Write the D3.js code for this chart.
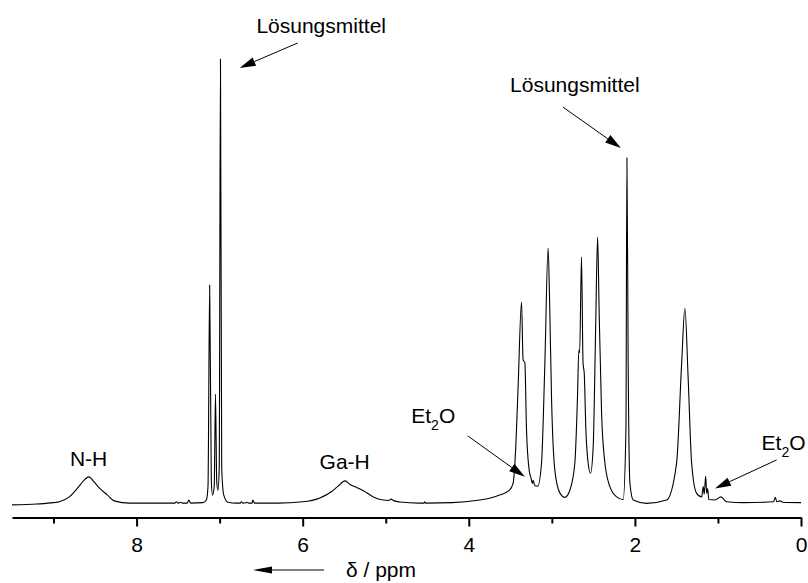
<!DOCTYPE html>
<html>
<head>
<meta charset="utf-8">
<script src="https://cdn.jsdelivr.net/npm/d3@7/dist/d3.min.js"></script>
<style>
  body { margin: 0; background: #fff; }
  svg { display: block; }
</style>
</head>
<body>
<div class="canvas"></div>
<script>
// 1H spectrum: [shift in ppm, intensity (tallest line = 100)]
const spectrum = [
  [9.5, -0.2], [9.2, 0.0], [9.0, 0.3], [8.93, 0.5], [8.81, 1.6], [8.71, 3.6], [8.64, 5.2],
  [8.575, 6.1], [8.51, 4.9], [8.45, 3.6], [8.35, 2.0], [8.27, 0.7], [8.08, 0.2], [7.8, 0.2],
  [7.54, 0.2], [7.52, 0.5], [7.5, 0.2], [7.47, 0.4], [7.45, 0.2], [7.39, 0.2], [7.37, 0.9],
  [7.35, 0.2], [7.2, 0.3], [7.16, 0.9], [7.14, 4], [7.12, 49.2], [7.1, 5], [7.085, 2.0],
  [7.065, 4], [7.05, 24.7], [7.035, 5], [7.02, 3.1], [7.005, 8], [6.99, 100], [6.975, 8],
  [6.95, 2], [6.9, 0.4], [6.8, 0.2], [6.75, 0.2], [6.74, 0.5], [6.72, 0.2], [6.68, 0.3],
  [6.67, 0.4], [6.65, 0.2], [6.61, 0.2], [6.6, 0.9], [6.58, 0.2], [6.3, 0.2], [6.0, 0.5],
  [5.8, 1.3], [5.65, 2.8], [5.58, 3.9], [5.49, 5.2], [5.43, 4.4], [5.35, 3.7], [5.27, 3.0],
  [5.15, 1.6], [5.03, 0.9], [4.96, 0.8], [4.94, 1.1], [4.9, 0.7], [4.83, 0.45], [4.6, 0.2],
  [4.54, 0.2], [4.53, 0.5], [4.52, 0.2], [4.2, 0.3], [3.87, 0.9], [3.75, 1.3], [3.63, 2.0],
  [3.51, 3.1], [3.466, 4.7], [3.434, 12.9], [3.406, 26.4], [3.365, 45.4], [3.346, 32.4],
  [3.325, 31.7], [3.305, 16.6], [3.273, 7.6], [3.25, 5.8], [3.235, 4.6], [3.225, 5.3],
  [3.205, 4.1], [3.17, 4.0], [3.124, 9.2], [3.084, 31.7], [3.045, 57.5], [3.024, 42.9],
  [3.004, 24.1], [2.964, 7.6], [2.904, 2.5], [2.843, 1.5], [2.783, 3.1], [2.723, 9.2],
  [2.691, 24.1], [2.675, 34.6], [2.665, 34.0], [2.643, 55.5], [2.624, 31.6], [2.61, 29.4],
  [2.59, 16.6], [2.563, 9.2], [2.534, 6.9], [2.502, 12.9], [2.473, 39.1], [2.449, 60.0],
  [2.43, 42.9], [2.401, 20.4], [2.361, 9.2], [2.301, 3.9], [2.22, 1.6], [2.141, 1.0],
  [2.108, 16.6], [2.096, 77.8], [2.081, 31.7], [2.06, 4.7], [2.02, 0.9], [1.859, 0.15],
  [1.618, 0.9], [1.498, 9.2], [1.437, 31.7], [1.398, 44.0], [1.358, 27.9], [1.317, 9.2],
  [1.257, 2.4], [1.196, 1.6], [1.177, 3.9], [1.165, 2.2], [1.148, 6.2], [1.135, 2.4],
  [1.124, 3.5], [1.11, 1.0], [1.036, 0.9], [0.964, 1.6], [0.895, 0.5], [0.69, 0.3],
  [0.33, 0.5], [0.31, 1.5], [0.29, 0.5], [0.253, 0.7], [0.22, 0.4], [0.0, 0.3]
];

const majorTicks = [8, 6, 4, 2, 0];
const minorTicks = [9, 7, 5, 3, 1];

// plain labels: [text, ppm, intensity at baseline]
const peakLabels = [
  ["N-H", 8.578, 8.5],
  ["Ga-H", 5.494, 7.9],
  ["Lösungsmittel", 5.777, 105.8],
  ["Lösungsmittel", 2.723, 92.6]
];
// Et2O labels, written with a subscript
const etherLabels = [
  [4.428, 18.3],
  [0.21, 12.1]
];
// arrows: [ppm tail, int tail, ppm tip, int tip]
const arrows = [
  [6.060, 103.6, 6.759, 98.0],
  [2.867, 89.2, 2.169, 80.0],
  [4.012, 15.3, 3.325, 6.1],
  [0.293, 9.9, 1.036, 3.5]
];

const width = 808;
const height = 583;
const font = "'Liberation Sans', Arial, Helvetica, sans-serif";

const x = d3.scaleLinear().domain([9.5, 0]).range([12, 801]);
const y = d3.scaleLinear().domain([0, 100]).range([504, 59]);
const axisY = 517.5;

const svg = d3.select('.canvas')
  .append('svg')
  .attr('width', width)
  .attr('height', height)
  .attr('viewBox', [0, 0, width, height])
  .style('font-family', font);

// spectrum
const line = d3.line()
  .x(d => x(d[0]))
  .y(d => y(d[1]))
  .curve(d3.curveMonotoneX);

svg.append('path')
  .datum(spectrum)
  .attr('fill', 'none')
  .attr('stroke', '#000')
  .attr('stroke-width', 1.1)
  .attr('stroke-linejoin', 'round')
  .attr('d', line);

// x axis
const major = svg.append('g')
  .attr('transform', `translate(0,${axisY})`)
  .call(d3.axisBottom(x).tickValues(majorTicks).tickSize(9).tickSizeOuter(0).tickPadding(11)
    .tickFormat(d3.format('d')));
major.select('.domain').attr('stroke-width', 2);
major.selectAll('.tick line').attr('stroke-width', 2);
major.selectAll('.tick text')
  .attr('font-size', 21)
  .attr('font-family', font)
  .attr('fill', '#000');

const minor = svg.append('g')
  .attr('transform', `translate(0,${axisY})`)
  .call(d3.axisBottom(x).tickValues(minorTicks).tickSize(6).tickFormat(''));
minor.select('.domain').remove();
minor.selectAll('.tick line').attr('stroke-width', 2);

// axis title with arrow pointing to higher shift
svg.append('text')
  .attr('x', 346)
  .attr('y', 577)
  .attr('font-size', 21)
  .text('δ / ppm');

function arrow(x1, y1, x2, y2, len, half) {
  const a = Math.atan2(y2 - y1, x2 - x1);
  const bx = x2 - len * Math.cos(a), by = y2 - len * Math.sin(a);
  svg.append('line')
    .attr('x1', x1).attr('y1', y1).attr('x2', bx).attr('y2', by)
    .attr('stroke', '#000').attr('stroke-width', 1);
  svg.append('path')
    .attr('d', `M${x2},${y2}L${bx + half * Math.sin(a)},${by - half * Math.cos(a)}` +
      `L${bx - half * Math.sin(a)},${by + half * Math.cos(a)}Z`)
    .attr('fill', '#000');
}

arrow(324, 570, 253, 570, 19, 3.5);

// annotations
svg.selectAll('text.peak')
  .data(peakLabels)
  .join('text')
  .attr('class', 'peak')
  .attr('x', d => x(d[1]))
  .attr('y', d => y(d[2]))
  .attr('text-anchor', 'middle')
  .attr('font-size', 21)
  .text(d => d[0]);

const ether = svg.selectAll('text.ether')
  .data(etherLabels)
  .join('text')
  .attr('class', 'ether')
  .attr('x', d => x(d[0]))
  .attr('y', d => y(d[1]))
  .attr('text-anchor', 'middle')
  .attr('font-size', 21);
ether.append('tspan').text('Et');
ether.append('tspan').attr('font-size', 14).attr('dy', 7).text('2');
ether.append('tspan').attr('dy', -7).text('O');

arrows.forEach(d => arrow(x(d[0]), y(d[1]), x(d[2]), y(d[3]), 16, 4.5));
</script>
</body>
</html>
